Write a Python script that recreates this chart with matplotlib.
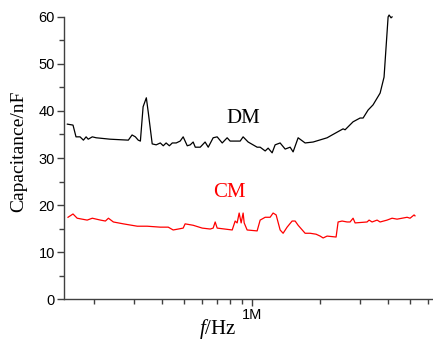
import matplotlib
matplotlib.use("Agg")
import matplotlib.pyplot as plt
from matplotlib.ticker import FixedLocator, NullFormatter, FixedFormatter

plt.rcParams["mathtext.fontset"] = "custom"
plt.rcParams["mathtext.rm"] = "Liberation Serif"
plt.rcParams["mathtext.it"] = "Liberation Serif:italic"

# differential-mode capacitance (frequency in kHz, capacitance in nF)
dm_f = [152, 161, 166, 173, 179, 184, 188, 196, 204, 235, 283, 294, 304, 313, 320,
        329, 340, 347, 361, 376, 392, 404, 416, 430, 443, 461, 480, 495, 516, 532,
        548, 560, 589, 619, 639, 672, 700, 737, 775, 799, 885, 912, 960, 1052, 1085,
        1142, 1177, 1226, 1264, 1330, 1400, 1473, 1518, 1598, 1716, 1862, 2147, 2259,
        2527, 2579, 2798, 3005, 3099, 3261, 3430, 3686, 3837, 3999, 4040, 4121, 4164]
dm_c = [37.2, 37.0, 34.5, 34.5, 33.8, 34.5, 34.0, 34.5, 34.3, 34.0, 33.8, 34.9, 34.5, 33.8, 33.6,
        40.9, 42.8, 39.6, 33.0, 32.8, 33.2, 32.6, 33.2, 32.6, 33.2, 33.2, 33.6, 34.5, 32.6, 32.8,
        33.4, 32.3, 32.3, 33.4, 32.3, 34.3, 34.5, 33.2, 34.3, 33.6, 33.6, 34.5, 33.4, 32.3, 32.3,
        31.5, 32.1, 31.1, 32.8, 33.2, 31.9, 32.3, 31.3, 34.3, 33.2, 33.4, 34.3, 34.9,
        36.2, 36.0, 37.7, 38.5, 38.5, 40.2, 41.3, 43.8, 47.2, 60.0, 60.4, 59.8, 60.0]

# common-mode capacitance
cm_f = [153, 161, 168, 186, 196, 213, 224, 231, 243, 269, 310, 343, 392, 425, 447,
        471, 495, 505, 548, 601, 652, 672, 686, 700, 816, 841, 858, 876, 894, 912,
        922, 950, 1052, 1085, 1142, 1201, 1238, 1277, 1330, 1371, 1428, 1503, 1550,
        1598, 1716, 1806, 1919, 2000, 2062, 2147, 2353, 2402, 2502, 2633, 2714, 2798,
        2856, 3227, 3294, 3396, 3574, 3686, 3957, 4164, 4381, 4611, 4852, 5003, 5211, 5260]
cm_c = [17.4, 18.1, 17.2, 16.8, 17.2, 16.8, 16.6, 17.2, 16.4, 16.0, 15.5, 15.5, 15.3, 15.3, 14.7,
        14.9, 15.1, 16.0, 15.7, 15.1, 14.9, 15.1, 16.4, 15.1, 14.7, 16.6, 16.2, 18.3, 16.2, 18.3,
        16.2, 14.7, 14.5, 16.8, 17.4, 17.4, 18.3, 17.9, 14.7, 14.0, 15.3, 16.6, 16.6,
        15.7, 14.0, 14.0, 13.8, 13.4, 13.0, 13.4, 13.2, 16.4, 16.6, 16.4, 16.4, 17.2,
        16.2, 16.4, 16.8, 16.4, 16.8, 16.4, 16.8, 17.2, 17.0, 17.2, 17.4, 17.2, 17.9, 17.7]

x_major = [1e6]
x_major_labels = ["1M"]
x_minor = [2e5, 3e5, 4e5, 5e5, 6e5, 7e5, 8e5, 9e5, 2e6, 3e6, 4e6, 5e6, 6e6]

fig = plt.figure(figsize=(4.33, 3.45), dpi=100)
ax = fig.add_axes([0.148, 0.133, 0.852, 0.818])

ax.plot([f * 1e3 for f in dm_f], dm_c, color="black", lw=0.9, clip_on=False)
ax.plot([f * 1e3 for f in cm_f], cm_c, color="red", lw=0.9, clip_on=False)

ax.set_xscale("log")
ax.set_xlim(1.47e5, 6.32e6)
ax.set_ylim(0, 60)

ax.xaxis.set_major_locator(FixedLocator(x_major))
ax.xaxis.set_major_formatter(FixedFormatter(x_major_labels))
ax.xaxis.set_minor_locator(FixedLocator(x_minor))
ax.xaxis.set_minor_formatter(NullFormatter())
ax.set_yticks(range(0, 61, 10))
ax.set_yticks(range(5, 60, 10), minor=True)

for s in ["top", "right"]:
    ax.spines[s].set_visible(False)
for s in ["left", "bottom"]:
    ax.spines[s].set_color("#404040")
    ax.spines[s].set_linewidth(1.0)

ax.tick_params(which="major", direction="out", length=5, width=1, color="#404040",
               labelsize=10.5, pad=1.5)
ax.tick_params(which="minor", direction="out", length=3.5, width=1, color="#404040")
for lab in ax.get_xticklabels() + ax.get_yticklabels():
    lab.set_family("Liberation Sans")

ax.set_ylabel("Capacitance/nF", family="Liberation Serif", fontsize=14, labelpad=8)
ax.yaxis.label.set_y(0.525)
ax.set_xlabel("$f$/Hz", family="Liberation Serif", fontsize=15, labelpad=0)
ax.xaxis.set_label_coords(0.417, -0.065)

ax.text(9.1e5, 38.5, "DM", family="Liberation Serif", fontsize=15,
        color="black", ha="center", va="center")
ax.text(7.9e5, 22.6, "CM", family="Liberation Serif", fontsize=15,
        color="red", ha="center", va="center")

fig.savefig("out.png", dpi=100)
